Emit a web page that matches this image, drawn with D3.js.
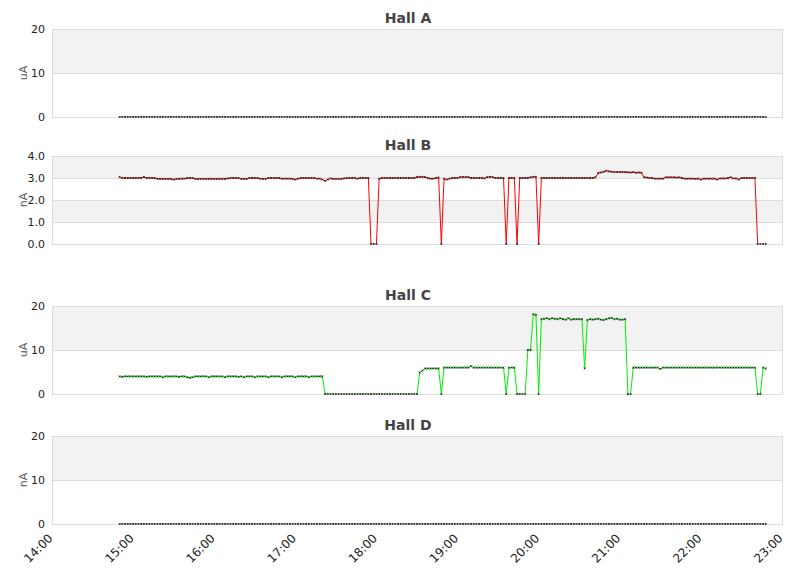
<!DOCTYPE html>
<html>
  <head>
    <meta charset="utf-8">
    <title>Hall currents</title>
    <style>
      body { margin: 0; background: #fff; }
      text { font-family: "DejaVu Sans", sans-serif; }
    </style>
  </head>
  <body>
    <script src="https://cdn.jsdelivr.net/npm/d3@7/dist/d3.min.js"></script>
    <script type="text/javascript">
      // samples every 2 minutes starting 14:50
      var startTime = "14:50";
      var stepMinutes = 2;

      var xTicks = ["14:00", "15:00", "16:00", "17:00", "18:00", "19:00", "20:00", "21:00", "22:00", "23:00"];

      var hallA = [
        0,0,0,0,0,0,0,0,0,0,0,0,0,0,0,0,0,0,0,0,
        0,0,0,0,0,0,0,0,0,0,0,0,0,0,0,0,0,0,0,0,
        0,0,0,0,0,0,0,0,0,0,0,0,0,0,0,0,0,0,0,0,
        0,0,0,0,0,0,0,0,0,0,0,0,0,0,0,0,0,0,0,0,
        0,0,0,0,0,0,0,0,0,0,0,0,0,0,0,0,0,0,0,0,
        0,0,0,0,0,0,0,0,0,0,0,0,0,0,0,0,0,0,0,0,
        0,0,0,0,0,0,0,0,0,0,0,0,0,0,0,0,0,0,0,0,
        0,0,0,0,0,0,0,0,0,0,0,0,0,0,0,0,0,0,0,0,
        0,0,0,0,0,0,0,0,0,0,0,0,0,0,0,0,0,0,0,0,
        0,0,0,0,0,0,0,0,0,0,0,0,0,0,0,0,0,0,0,0,
        0,0,0,0,0,0,0,0,0,0,0,0,0,0,0,0,0,0,0,0,
        0,0,0,0,0,0,0,0,0,0,0,0,0,0,0,0,0,0,0,0
      ];

      var hallB = [
        3.05,3.0,3.0,3.0,3.0,3.0,3.0,3.0,3.0,3.05,3.0,3.0,3.0,3.0,2.96,2.96,2.96,2.96,2.96,2.96,
        2.93,2.96,2.96,2.97,2.97,3.0,3.0,3.0,2.96,2.96,2.96,2.96,2.96,2.96,2.96,2.96,2.96,2.96,2.96,2.96,
        2.98,3.0,3.0,3.0,3.0,2.96,2.96,2.96,3.0,3.0,3.0,3.0,2.97,2.96,2.96,3.0,3.0,3.0,3.0,3.0,
        2.97,2.97,2.97,2.97,2.96,2.93,2.97,3.0,3.0,3.0,3.0,3.0,3.0,2.97,2.97,2.93,2.87,2.93,2.98,2.96,
        2.96,2.96,2.96,2.98,3.0,3.0,3.0,3.0,2.97,3.0,3.0,3.0,3.0,0,0,0,2.97,3.0,3.0,3.0,
        3.0,3.0,3.0,3.0,3.0,3.0,3.0,3.0,3.0,3.0,3.04,3.05,3.05,3.04,3.0,2.97,2.97,3.0,3.02,0,
        2.97,2.93,2.97,3.0,3.0,3.0,3.04,3.04,3.04,3.04,3.0,3.0,3.0,3.0,3.0,2.98,3.04,3.05,3.04,3.0,
        3.0,3.0,3.0,0,3.0,3.0,3.0,0,3.0,3.0,3.0,3.0,3.03,3.05,3.05,0,3.0,3.0,3.0,3.0,
        3.0,3.0,3.0,3.0,3.0,3.0,3.0,3.0,3.0,3.0,3.0,3.0,3.0,3.0,3.0,3.0,3.03,3.22,3.25,3.28,
        3.33,3.3,3.28,3.27,3.27,3.27,3.27,3.27,3.26,3.25,3.27,3.24,3.25,3.24,3.03,3.02,3.0,3.0,2.97,2.97,
        2.97,2.97,3.03,3.03,3.03,3.03,3.02,3.03,3.0,2.97,2.97,2.97,2.97,2.96,2.97,2.93,2.97,2.97,2.97,2.97,
        2.97,2.93,2.98,2.98,2.98,3.0,3.03,2.98,2.98,2.93,3.0,3.0,3.0,3.0,3.0,3.0,0,0,0,0
      ];

      var hallC = [
        4.0,3.9,4.0,4.0,4.0,4.0,4.0,4.0,4.0,4.0,3.9,4.0,4.0,4.0,4.0,4.0,3.8,4.0,4.0,4.0,
        4.0,4.0,3.9,4.0,4.0,3.8,3.7,3.8,4.0,4.0,4.0,4.0,4.0,3.8,4.0,4.0,4.0,4.0,4.0,3.8,
        4.0,4.0,4.0,4.0,3.9,4.0,3.8,4.0,4.0,4.0,3.8,4.0,4.0,4.0,4.0,3.8,4.0,4.0,4.0,4.0,
        3.8,4.0,4.0,4.0,4.0,3.8,4.0,4.0,4.0,4.0,3.8,4.0,4.0,4.0,4.0,4.0,0,0,0,0,
        0,0,0,0,0,0,0,0,0,0,0,0,0,0,0,0,0,0,0,0,
        0,0,0,0,0,0,0,0,0,0,0,4.9,5.3,5.8,5.8,5.8,5.8,5.8,5.8,0,
        6.0,6.0,6.0,6.0,6.0,6.0,6.0,6.0,6.0,6.0,6.3,6.0,6.0,6.0,6.0,6.0,6.0,6.0,6.0,6.0,
        6.0,6.0,6.0,0,6.0,6.0,6.0,0,0,0,0,10.0,10.0,18.1,18.0,0,17.0,17.1,17.2,17.0,
        17.2,17.1,17.0,17.2,17.0,16.9,17.2,16.9,17.0,17.0,17.0,17.0,5.8,16.8,17.0,16.9,17.0,17.1,16.9,16.8,
        17.0,17.2,17.3,17.0,17.1,16.9,16.9,17.0,0,0,6.0,6.0,6.0,6.0,6.0,6.0,6.0,6.0,6.0,6.0,
        5.7,6.0,6.0,6.0,6.0,6.0,6.0,6.0,6.0,6.0,6.0,6.0,6.0,6.0,6.0,6.0,6.0,6.0,6.0,6.0,
        6.0,6.0,6.0,6.0,6.0,6.0,6.0,6.0,6.0,6.0,6.0,6.0,6.0,6.0,6.0,6.0,0,0,6.0,5.8
      ];

      var hallD = [
        0,0,0,0,0,0,0,0,0,0,0,0,0,0,0,0,0,0,0,0,
        0,0,0,0,0,0,0,0,0,0,0,0,0,0,0,0,0,0,0,0,
        0,0,0,0,0,0,0,0,0,0,0,0,0,0,0,0,0,0,0,0,
        0,0,0,0,0,0,0,0,0,0,0,0,0,0,0,0,0,0,0,0,
        0,0,0,0,0,0,0,0,0,0,0,0,0,0,0,0,0,0,0,0,
        0,0,0,0,0,0,0,0,0,0,0,0,0,0,0,0,0,0,0,0,
        0,0,0,0,0,0,0,0,0,0,0,0,0,0,0,0,0,0,0,0,
        0,0,0,0,0,0,0,0,0,0,0,0,0,0,0,0,0,0,0,0,
        0,0,0,0,0,0,0,0,0,0,0,0,0,0,0,0,0,0,0,0,
        0,0,0,0,0,0,0,0,0,0,0,0,0,0,0,0,0,0,0,0,
        0,0,0,0,0,0,0,0,0,0,0,0,0,0,0,0,0,0,0,0,
        0,0,0,0,0,0,0,0,0,0,0,0,0,0,0,0,0,0,0,0
      ];

      var panels = [
        { title: "Hall A", unit: "uA", values: hallA, max: 20, ticks: [0, 10, 20], fmt: "d", color: "#000", top: 29 },
        { title: "Hall B", unit: "nA", values: hallB, max: 4, ticks: [0, 1, 2, 3, 4], fmt: ".1f", color: "#ff0000", top: 156 },
        { title: "Hall C", unit: "uA", values: hallC, max: 20, ticks: [0, 10, 20], fmt: "d", color: "#00ee00", top: 306 },
        { title: "Hall D", unit: "nA", values: hallD, max: 20, ticks: [0, 10, 20], fmt: "d", color: "#000", top: 436 }
      ];

      var width = 811, height = 578;
      var left = 52, right = 782, plotH = 88;

      var parseHM = d3.timeParse("%H:%M");
      var t0 = parseHM(startTime);

      var x = d3.scaleTime()
                .domain([parseHM(xTicks[0]), parseHM(xTicks[xTicks.length - 1])])
                .range([left, right]);

      var svg = d3.select("body")
                  .append("svg")
                  .attr("width", width)
                  .attr("height", height);

      panels.forEach(function(p, pi) {
        var data = p.values.map(function(v, i) {
          return { t: d3.timeMinute.offset(t0, i * stepMinutes), v: v };
        });

        var y = d3.scaleLinear()
                  .domain([0, p.max])
                  .range([p.top + plotH, p.top]);

        var g = svg.append("g");

        // alternating bands, top band grey
        var bands = d3.pairs(p.ticks.slice().reverse());
        g.selectAll("rect.band")
         .data(bands)
         .enter()
         .append("rect")
         .attr("x", left)
         .attr("width", right - left)
         .attr("y", function(d) { return y(d[0]); })
         .attr("height", function(d) { return y(d[1]) - y(d[0]); })
         .attr("fill", function(d, i) { return i % 2 === 0 ? "#f2f2f2" : "#fff"; });

        var yAxis = d3.axisLeft(y)
                      .tickValues(p.ticks)
                      .tickSize(-(right - left))
                      .tickPadding(7)
                      .tickFormat(d3.format(p.fmt));
        var ay = g.append("g")
                  .attr("transform", "translate(" + left + ",0)")
                  .call(yAxis);
        ay.select(".domain").remove();
        ay.selectAll("line").attr("stroke", "#dddddd").attr("shape-rendering", "crispEdges");
        ay.selectAll("text")
          .attr("fill", "#222")
          .attr("font-size", 11)
          .attr("font-family", "DejaVu Sans, sans-serif");

        g.append("rect")
         .attr("x", left + 0.5)
         .attr("y", p.top + 0.5)
         .attr("width", right - left)
         .attr("height", plotH)
         .attr("fill", "none")
         .attr("stroke", "#dddddd");

        g.append("text")
         .attr("x", 408)
         .attr("y", p.top - 6)
         .attr("text-anchor", "middle")
         .attr("font-family", "Liberation Sans, Arial, sans-serif")
         .attr("font-size", 14)
         .attr("font-weight", "bold")
         .attr("fill", "#444")
         .text(p.title);

        g.append("text")
         .attr("transform", "translate(27," + (p.top + plotH / 2) + ") rotate(-90)")
         .attr("text-anchor", "middle")
         .attr("font-size", 11)
         .attr("fill", "#555")
         .text(p.unit);

        svg.append("clipPath")
           .attr("id", "clip" + pi)
           .append("rect")
           .attr("x", left)
           .attr("y", p.top - 2)
           .attr("width", right - left)
           .attr("height", plotH + 1.5);

        var line = d3.line()
                     .x(function(d) { return x(d.t); })
                     .y(function(d) { return y(d.v); });

        g.append("path")
         .datum(data)
         .attr("clip-path", "url(#clip" + pi + ")")
         .attr("fill", "none")
         .attr("stroke", p.color)
         .attr("stroke-width", 1)
         .attr("d", line);

        // small x-shaped markers
        g.selectAll("path.mark")
         .data(data)
         .enter()
         .append("path")
         .attr("class", "mark")
         .attr("transform", function(d) { return "translate(" + x(d.t) + "," + y(d.v) + ")"; })
         .attr("d", "M-0.8,-1L0.8,1M-0.8,1L0.8,-1")
         .attr("stroke", "#000")
         .attr("stroke-opacity", 0.85)
         .attr("stroke-width", 0.8)
         .attr("fill", "none");
      });

      // time axis under the last panel
      var xAxis = d3.axisBottom(x)
                    .tickValues(xTicks.map(parseHM))
                    .tickSize(0)
                    .tickFormat(d3.timeFormat("%H:%M"));
      var ax = svg.append("g")
                  .attr("transform", "translate(0," + (436 + plotH) + ")")
                  .call(xAxis);
      ax.select(".domain").remove();
      ax.selectAll("text")
        .attr("font-size", 12)
        .attr("font-family", "Liberation Sans, Arial, sans-serif")
        .attr("fill", "#222")
        .attr("text-anchor", "end")
        .attr("dy", 0)
        .attr("y", 0)
        .attr("transform", "translate(1,15) rotate(-45)");
    </script>
  </body>
</html>
